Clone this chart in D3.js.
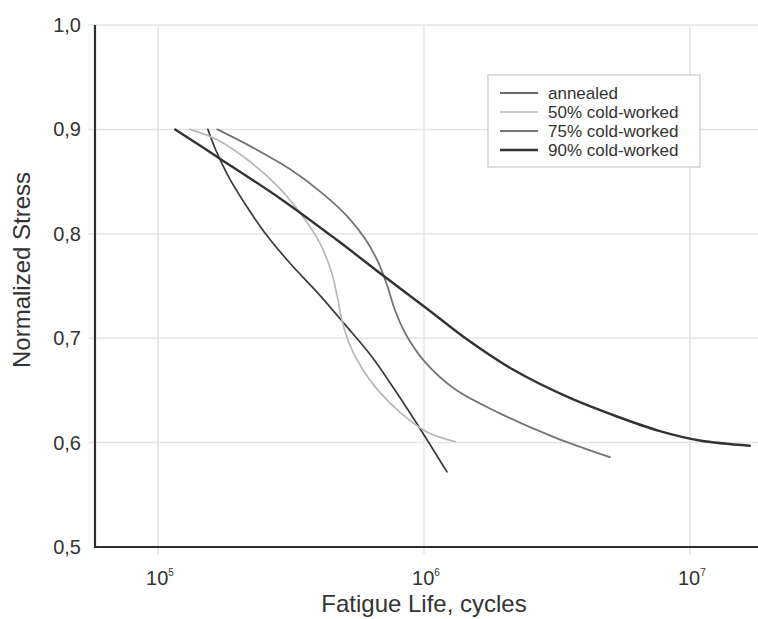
<!DOCTYPE html>
<html>
<head>
<meta charset="utf-8">
<script src="https://cdn.jsdelivr.net/npm/d3@7"></script>
<style>
  html, body { margin: 0; padding: 0; background: #fff; }
  svg { display: block; font-family: "Liberation Sans", Arial, Helvetica, sans-serif; }
</style>
</head>
<body>
<svg id="chart" width="758" height="619"></svg>
<script>
// S-N fatigue curves: normalized stress vs. fatigue life (cycles, log scale)
const seriesNames = ["annealed", "50% cold-worked", "75% cold-worked", "90% cold-worked"];

const annealedCycles = [1.54e5, 1.65e5, 1.83e5, 2.12e5, 2.52e5, 3.13e5, 4.00e5, 5.05e5, 6.38e5, 7.98e5, 9.91e5, 1.22e6];
const annealedStress = [0.900, 0.880, 0.856, 0.829, 0.801, 0.772, 0.743, 0.713, 0.682, 0.646, 0.609, 0.572];

const cw50Cycles = [1.32e5, 1.67e5, 2.22e5, 2.83e5, 3.47e5, 4.06e5, 4.47e5, 4.71e5, 4.92e5, 5.27e5, 5.85e5, 6.72e5, 8.13e5, 1.03e6, 1.31e6];
const cw50Stress = [0.900, 0.890, 0.869, 0.845, 0.818, 0.791, 0.765, 0.741, 0.717, 0.693, 0.671, 0.650, 0.629, 0.610, 0.601];

const cw75Cycles = [1.67e5, 2.22e5, 3.13e5, 4.14e5, 5.18e5, 6.05e5, 6.72e5, 7.26e5, 7.78e5, 8.49e5, 1.01e6, 1.31e6, 1.93e6, 3.10e6, 5.00e6];
const cw75Stress = [0.900, 0.884, 0.862, 0.839, 0.816, 0.794, 0.773, 0.751, 0.727, 0.705, 0.677, 0.651, 0.628, 0.605, 0.586];

const cw90Cycles = [1.16e5, 1.71e5, 2.95e5, 4.71e5, 7.02e5, 1.03e6, 1.45e6, 2.16e6, 3.45e6, 5.32e6, 7.71e6, 1.09e7, 1.68e7];
const cw90Stress = [0.900, 0.872, 0.832, 0.794, 0.760, 0.728, 0.699, 0.670, 0.644, 0.625, 0.611, 0.602, 0.597];

const xTickExponents = [5, 6, 7];
const yTickValues = [0.5, 0.6, 0.7, 0.8, 0.9, 1.0];
const yTickLabels = ["0,5", "0,6", "0,7", "0,8", "0,9", "1,0"];

const xTitle = "Fatigue Life, cycles";
const yTitle = "Normalized Stress";

const series = [
  { name: seriesNames[0], cycles: annealedCycles, stress: annealedStress, color: "#3a3a3a", width: 1.7 },
  { name: seriesNames[1], cycles: cw50Cycles, stress: cw50Stress, color: "#b8b8b8", width: 1.7 },
  { name: seriesNames[2], cycles: cw75Cycles, stress: cw75Stress, color: "#747474", width: 1.8 },
  { name: seriesNames[3], cycles: cw90Cycles, stress: cw90Stress, color: "#333333", width: 2.4 }
];

const svg = d3.select("#chart");
const plot = { left: 95, right: 758, top: 25, bottom: 547 };

// log-scale x spanning a little under 10^5 to a little over 10^7
const x = d3.scaleLog()
  .domain([Math.pow(10, 4.763), Math.pow(10, 7.256)])
  .range([plot.left, plot.right]);
const y = d3.scaleLinear().domain([0.5, 1.0]).range([plot.bottom, plot.top]);

// grid
const grid = svg.append("g").attr("stroke", "#e4e4e4").attr("stroke-width", 1.5);
xTickExponents.forEach(e => {
  grid.append("line")
    .attr("x1", x(Math.pow(10, e))).attr("x2", x(Math.pow(10, e)))
    .attr("y1", plot.top).attr("y2", plot.bottom + 7);
});
yTickValues.slice(1).forEach(v => {
  grid.append("line")
    .attr("x1", plot.left - 7).attr("x2", plot.right)
    .attr("y1", y(v)).attr("y2", y(v));
});

// axis lines
svg.append("line")
  .attr("x1", plot.left).attr("x2", plot.left)
  .attr("y1", plot.top).attr("y2", plot.bottom)
  .attr("stroke", "#2e2e2e").attr("stroke-width", 2.2);
svg.append("line")
  .attr("x1", plot.left - 1).attr("x2", plot.right)
  .attr("y1", plot.bottom).attr("y2", plot.bottom)
  .attr("stroke", "#2e2e2e").attr("stroke-width", 2.2);

// y tick labels
svg.append("g").selectAll("text")
  .data(yTickValues)
  .join("text")
  .attr("x", 81)
  .attr("y", d => y(d) + 7)
  .attr("text-anchor", "end")
  .attr("font-size", 20)
  .attr("fill", "#333")
  .text((d, i) => yTickLabels[i]);

// x tick labels: 10 with superscript exponent
const xt = svg.append("g").selectAll("text")
  .data(xTickExponents)
  .join("text")
  .attr("x", d => x(Math.pow(10, d)) + 2)
  .attr("y", 585)
  .attr("text-anchor", "middle")
  .attr("font-size", 20)
  .attr("fill", "#333");
xt.append("tspan").text("10");
xt.append("tspan")
  .attr("font-size", 10)
  .attr("dy", -9)
  .text(d => d);

// axis titles
svg.append("text")
  .attr("x", 424).attr("y", 612)
  .attr("text-anchor", "middle")
  .attr("font-size", 24)
  .attr("fill", "#333")
  .text(xTitle);
svg.append("text")
  .attr("transform", "translate(30,270) rotate(-90)")
  .attr("text-anchor", "middle")
  .attr("font-size", 24)
  .attr("fill", "#333")
  .text(yTitle);

// curves
const line = d3.line()
  .x(d => x(d[0]))
  .y(d => y(d[1]))
  .curve(d3.curveCatmullRom.alpha(0.5));

svg.append("g").selectAll("path")
  .data(series)
  .join("path")
  .attr("d", s => line(s.cycles.map((c, i) => [c, s.stress[i]])))
  .attr("fill", "none")
  .attr("stroke", s => s.color)
  .attr("stroke-width", s => s.width)
  .attr("stroke-linecap", "round");

// legend
const lg = svg.append("g");
lg.append("rect")
  .attr("x", 488).attr("y", 75)
  .attr("width", 212).attr("height", 92)
  .attr("fill", "#fff")
  .attr("stroke", "#c8c8c8").attr("stroke-width", 1.2);
const rows = lg.selectAll("g.row")
  .data(series)
  .join("g")
  .attr("class", "row")
  .attr("transform", (d, i) => `translate(0, ${93 + i * 19})`);
rows.append("line")
  .attr("x1", 500).attr("x2", 538)
  .attr("y1", 0).attr("y2", 0)
  .attr("stroke", d => d.color)
  .attr("stroke-width", d => d.width);
rows.append("text")
  .attr("x", 548).attr("y", 6)
  .attr("font-size", 17)
  .attr("fill", "#333")
  .text(d => d.name);
</script>
</body>
</html>
